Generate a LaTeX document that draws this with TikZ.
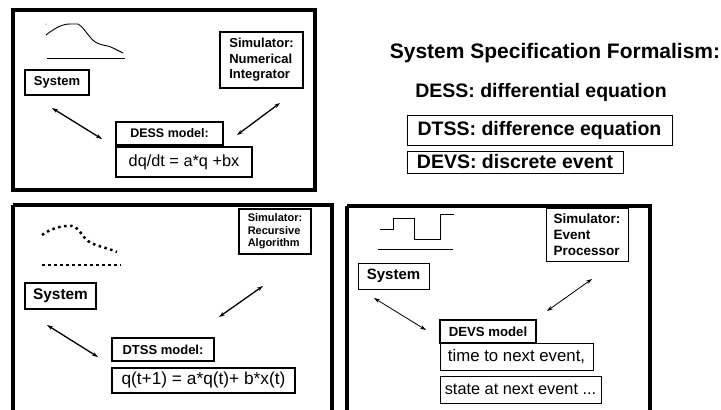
\documentclass[tikz,border=0pt]{standalone}
\usepackage{fontspec}
\setmainfont{Liberation Sans}
\usetikzlibrary{arrows.meta}
\begin{document}
\begin{tikzpicture}[x=1pt,y=-1pt,
  panel/.style={line width=3.5pt},
  bx/.style={draw,line width=1.6pt,inner sep=2pt},
  tb/.style={draw,line width=0.9pt,inner sep=2pt},
  dbl/.style={{Stealth[length=6pt,width=4pt]}-{Stealth[length=6pt,width=4pt]},line width=1.3pt},
  dblthin/.style={{Stealth[length=6pt,width=4pt]}-{Stealth[length=6pt,width=4pt]},line width=0.8pt},
  dots/.style={line width=2.5pt,dash pattern=on 2.5pt off 3.5pt}]
\useasboundingbox (0,0) rectangle (721,410);
% panels
\draw[panel] (13,10) rectangle (315,190);
\draw[panel] (13,205) -- (13,420) (13,205) -- (332,205) -- (332,420);
\draw[panel] (347,206) -- (347,420) (347,206) -- (650,206) -- (650,420);
% panel 1
\draw[line width=0.9pt] (46,35) .. controls (55,28) and (62,24) .. (70,24) -- (78,24) .. controls (85,28) and (90,40) .. (97,43) .. controls (103,46) and (108,45) .. (113,48) -- (123,53);
\fill (46,24) circle (0.5);
\draw[line width=0.9pt] (47,58) -- (125,58);
\node[bx,minimum width=64pt,minimum height=25pt,font=\bfseries\fontsize{13}{15}\selectfont] (sys1) at (57,82.5) {System};
\node[bx,minimum width=83pt,minimum height=56pt,align=left,font=\bfseries\fontsize{13}{15.5}\selectfont] (sim1) at (261.5,60) {Simulator:\\Numerical\\Integrator};
\node[bx,minimum width=107pt,minimum height=23pt,font=\bfseries\fontsize{12.5}{14}\selectfont] (dessm) at (169.5,133.5) {DESS model:};
\node[bx,minimum width=136pt,minimum height=30pt,font=\fontsize{16.3}{18}\selectfont] (desseq) at (184,162) {dq/dt = a*q +bx};
\coordinate (a1s) at (52,108); \coordinate (a1e) at (102,139);
\coordinate (b1s) at (280,103); \coordinate (b1e) at (237,135);
\draw[dbl] (a1s) -- (a1e);
\draw[dbl] (b1s) -- (b1e);
% panel 2
\draw[dots] (42,235) .. controls (50,229) and (62,225) .. (72,226) .. controls (80,228) and (82,237) .. (88,241) .. controls (95,246) and (105,247) .. (117,252);
\draw[dots] (42,265) -- (121,265);
\node[bx,minimum width=72pt,minimum height=45pt,align=left,font=\bfseries\fontsize{11}{12.5}\selectfont] (sim2) at (275,231.5) {Simulator:\\Recursive\\Algorithm};
\node[bx,minimum width=71pt,minimum height=26pt,font=\bfseries\fontsize{15.4}{17}\selectfont] (sys2) at (60.5,296) {System};
\node[bx,minimum width=102pt,minimum height=23pt,font=\bfseries\fontsize{13}{15}\selectfont] (dtssm) at (163,349.5) {DTSS model:};
\node[bx,minimum width=183pt,minimum height=25pt,font=\fontsize{17.3}{20}\selectfont] (dtsseq) at (203.5,380.5) {q(t+1) = a*q(t)+ b*x(t)};
\coordinate (a2s) at (47,325); \coordinate (a2e) at (98,357);
\coordinate (b2s) at (263,286); \coordinate (b2e) at (219,317);
\draw[dbl] (a2s) -- (a2e);
\draw[dbl] (b2s) -- (b2e);
% panel 3
\draw[line width=0.9pt] (380,229) -- (393,229) -- (393,218) -- (414,218) -- (414,239) -- (440,239) -- (440,214) -- (454,214);
\draw[line width=0.9pt] (378,249) -- (453,249);
\node[tb,minimum width=82pt,minimum height=53pt,align=left,font=\bfseries\fontsize{13.5}{16}\selectfont] (sim3) at (587,234.5) {Simulator:\\Event\\Processor};
\node[tb,minimum width=71pt,minimum height=26pt,font=\bfseries\fontsize{15}{17}\selectfont] (sys3) at (393.5,276) {System};
\node[bx,minimum width=96pt,minimum height=23pt,font=\bfseries\fontsize{13.2}{15}\selectfont] (devsm) at (488,331.5) {DEVS model};
\node[tb,minimum width=153pt,minimum height=27pt,font=\fontsize{16.8}{19}\selectfont] (devs1) at (516.5,356.5) {time to next event,};
\node[tb,minimum width=161pt,minimum height=27pt,font=\fontsize{16.3}{19}\selectfont] (devs2) at (520.5,389.5) {state at next event ...};
\coordinate (a3s) at (374,298); \coordinate (a3e) at (426,330);
\coordinate (b3s) at (592,279); \coordinate (b3e) at (547,311);
\draw[dblthin] (a3s) -- (a3e);
\draw[dblthin] (b3s) -- (b3e);
% right text
\node[font=\bfseries\fontsize{21}{24}\selectfont] (title) at (555,53) {System Specification Formalism:};
\node[font=\bfseries\fontsize{19.5}{22}\selectfont] (dess) at (541,92) {DESS: differential equation};
\node[tb,minimum width=265pt,minimum height=30pt,font=\bfseries\fontsize{19.5}{22}\selectfont] (dtss) at (539.5,130) {DTSS: difference equation};
\node[tb,minimum width=216pt,minimum height=22pt,font=\bfseries\fontsize{19.5}{22}\selectfont] (devs) at (515,162) {DEVS: discrete event};
\end{tikzpicture}
\end{document}
